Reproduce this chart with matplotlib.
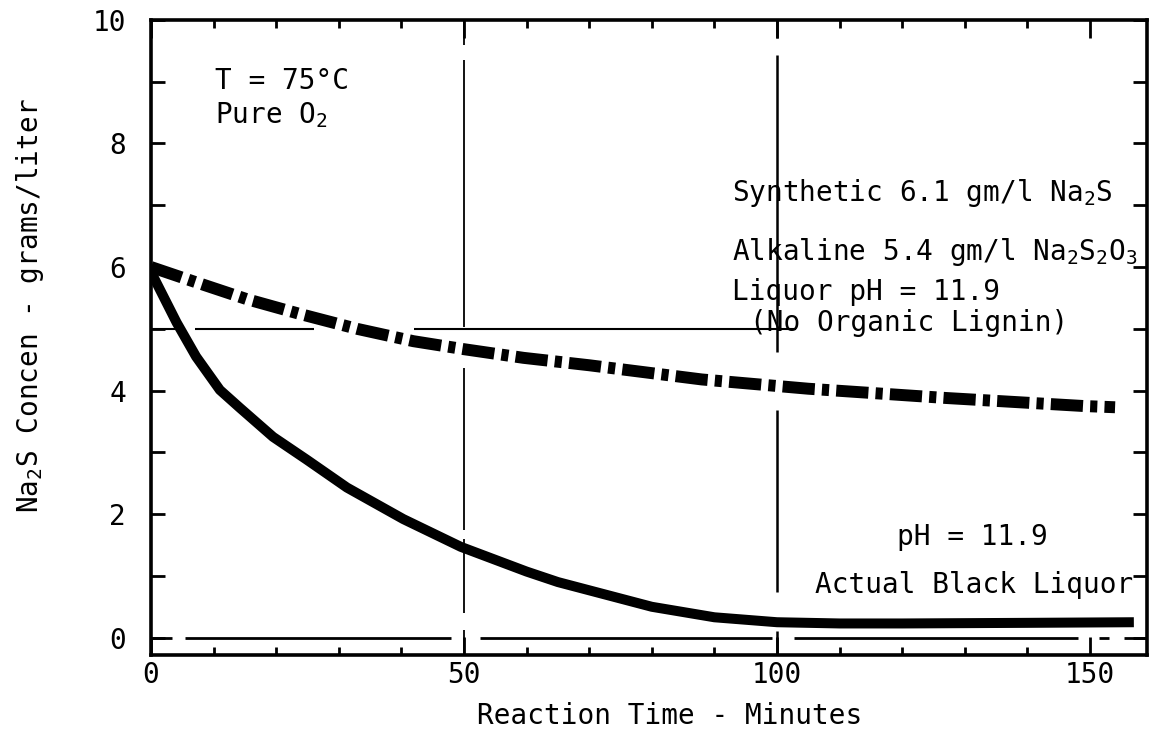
import matplotlib
matplotlib.use("Agg")
import matplotlib.pyplot as plt
from matplotlib.ticker import MultipleLocator, FixedLocator

plt.rcParams['font.family'] = ['DejaVu Sans Mono', 'DejaVu Sans']
plt.rcParams['mathtext.fontset'] = 'custom'
plt.rcParams['mathtext.rm'] = 'DejaVu Sans Mono'
plt.rcParams['mathtext.it'] = 'DejaVu Sans Mono'
plt.rcParams['mathtext.bf'] = 'DejaVu Sans Mono:bold'
plt.rcParams['mathtext.default'] = 'rm'

# ---- data ----
time_actual = [0, 4.1, 7.2, 11, 14.2, 19.5, 24.9, 31.3, 40.3, 49.5, 60, 65, 80, 90, 100, 110, 120, 140, 157]
conc_actual = [5.92, 5.10, 4.55, 4.01, 3.72, 3.25, 2.88, 2.43, 1.92, 1.47, 1.07, 0.90, 0.50,
               0.33, 0.25, 0.23, 0.23, 0.24, 0.25]

time_synth = [0, 6.7, 15.3, 23.8, 32.9, 41.9, 50, 59.5, 70, 88, 105, 127, 149, 154]
conc_synth = [6.00, 5.77, 5.48, 5.24, 5.00, 4.80, 4.67, 4.53, 4.41, 4.18, 4.03, 3.88, 3.75, 3.73]

x_tick_values = [0, 50, 100, 150]
x_tick_labels = ["0", "50", "100", "150"]
y_tick_values = [0, 2, 4, 6, 8, 10]
y_tick_labels = ["0", "2", "4", "6", "8", "10"]

# broken reference lines of the original drawing (x-ranges / y-ranges of pieces)
hline0_pieces = [(0, 3.4), (5.5, 48), (52.5, 99.2), (102.7, 148), (151.5, 153), (155.5, 159.1)]
hline5_pieces = [(0, 4), (7, 26), (42, 103)]
vline50_pieces = [(9.6, 10), (5.03, 9.35), (1.75, 4.37), (0.40, 1.59), (-0.28, 0.13)]
vline100_pieces = [(9.7, 10), (4.63, 9.43), (0.74, 3.69), (-0.28, 0.10)]

FS = 20

fig = plt.figure(figsize=(11.58, 7.36), dpi=100)
ax = fig.add_axes([0.1304, 0.1101, 0.8601, 0.8628])
ax.set_xlim(0, 159.1)
ax.set_ylim(-0.28, 10)

# reference lines
for a, b in hline0_pieces:
    ax.plot([a, b], [0, 0], color='black', lw=2.0, solid_capstyle='butt', zorder=1)
for a, b in hline5_pieces:
    ax.plot([a, b], [5, 5], color='black', lw=1.5, solid_capstyle='butt', zorder=1)
for a, b in vline50_pieces:
    ax.plot([50, 50], [a, b], color='black', lw=1.3, solid_capstyle='butt', zorder=1)
for a, b in vline100_pieces:
    ax.plot([100, 100], [a, b], color='black', lw=1.8, solid_capstyle='butt', zorder=1)

# curves
ax.plot(time_actual, conc_actual, color='black', lw=7.2,
        solid_capstyle='butt', solid_joinstyle='round', zorder=3)
ax.plot(time_synth, conc_synth, color='black', lw=8.6,
        linestyle=(0, (2.7, 0.6, 0.6, 0.6)), dash_capstyle='butt', zorder=3)

# ticks
ax.xaxis.set_major_locator(FixedLocator(x_tick_values))
ax.set_xticklabels(x_tick_labels)
ax.xaxis.set_minor_locator(MultipleLocator(10))
ax.yaxis.set_major_locator(FixedLocator(y_tick_values))
ax.set_yticklabels(y_tick_labels)
ax.yaxis.set_minor_locator(MultipleLocator(1))

ax.tick_params(axis='x', which='major', direction='in', length=13, width=2,
               top=True, bottom=True, pad=4, labelsize=FS)
ax.tick_params(axis='x', which='minor', direction='in', length=6, width=2,
               top=True, bottom=True)
ax.tick_params(axis='y', which='both', direction='in', length=10, width=2,
               left=True, right=True, pad=18, labelsize=FS)

for s in ax.spines.values():
    s.set_linewidth(2.6)

# axis labels
ax.set_xlabel("Reaction Time - Minutes", fontsize=FS)
ax.xaxis.set_label_coords(0.521, -0.096)
ax.xaxis.label.set_va('center')
ax.set_ylabel("Na$_2$S Concen - grams/liter", fontsize=FS)
ax.yaxis.set_label_coords(-0.1215, 0.55)
ax.yaxis.label.set_va('center')

# annotations
ax.text(10.2, 8.88, "T = 75°C", fontsize=FS, va='baseline', ha='left')
ax.text(10.2, 8.33, "Pure O$_2$", fontsize=FS, va='baseline', ha='left')
ax.text(92.8, 7.07, "Synthetic 6.1 gm/l Na$_2$S", fontsize=FS, va='baseline', ha='left')
ax.text(92.8, 6.12, "Alkaline 5.4 gm/l Na$_2$S$_2$O$_3$", fontsize=FS, va='baseline', ha='left')
ax.text(92.8, 5.47, "Liquor pH = 11.9", fontsize=FS, va='baseline', ha='left')
ax.text(95.7, 4.97, "(No Organic Lignin)", fontsize=FS, va='baseline', ha='left')
ax.text(119.2, 1.50, "pH = 11.9", fontsize=FS, va='baseline', ha='left')
ax.text(106.1, 0.73, "Actual Black Liquor", fontsize=FS, va='baseline', ha='left')

fig.savefig("out.png", dpi=100)
